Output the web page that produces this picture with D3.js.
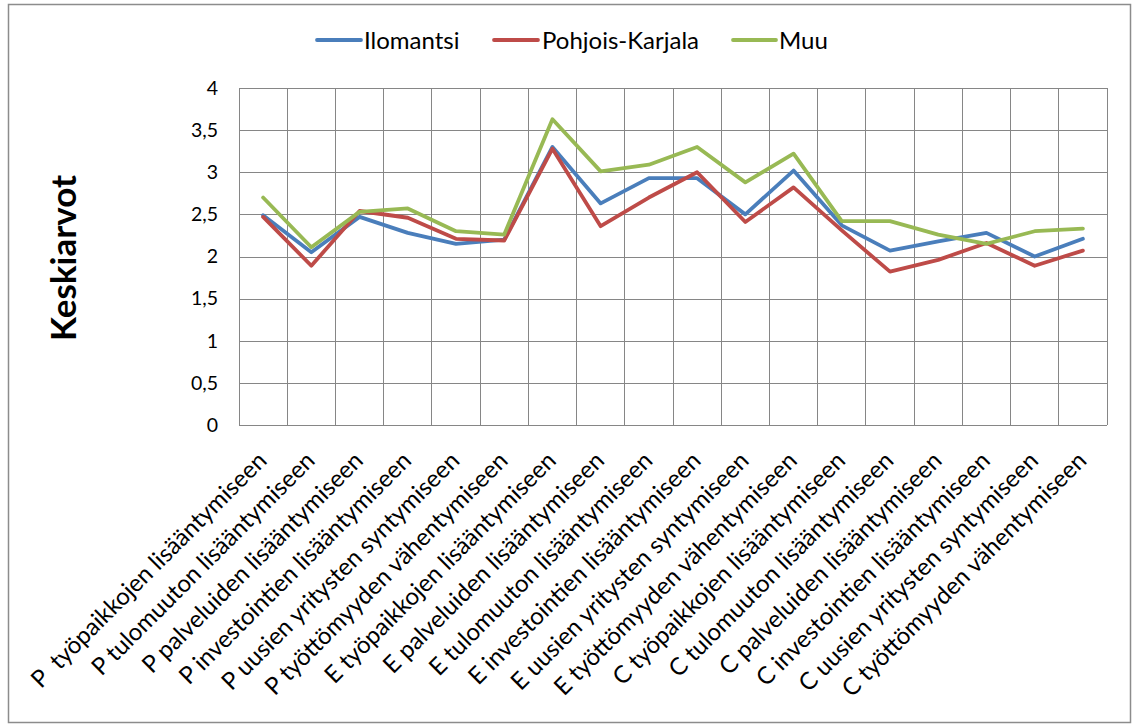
<!DOCTYPE html>
<html>
<head>
<meta charset="utf-8">
<script src="https://cdn.jsdelivr.net/npm/d3@7"></script>
<style>
  html, body { margin: 0; padding: 0; background: #fff; }
  svg { display: block; font-family: Lato, "Open Sans", sans-serif; }
  .xlabel { white-space: pre; }
</style>
</head>
<body>
<svg id="chart" width="1132" height="724"></svg>
<script>
// Question categories (x axis)
const categories = [
  "P  työpaikkojen lisääntymiseen",
  "P tulomuuton lisääntymiseen",
  "P palveluiden lisääntymiseen",
  "P investointien lisääntymiseen",
  "P uusien yritysten syntymiseen",
  "P työttömyyden vähentymiseen",
  "E työpaikkojen lisääntymiseen",
  "E palveluiden lisääntymiseen",
  "E tulomuuton lisääntymiseen",
  "E investointien lisääntymiseen",
  "E uusien yritysten syntymiseen",
  "E työttömyyden vähentymiseen",
  "C työpaikkojen lisääntymiseen",
  "C tulomuuton lisääntymiseen",
  "C palveluiden lisääntymiseen",
  "C investointien lisääntymiseen",
  "C uusien yritysten syntymiseen",
  "C työttömyyden vähentymiseen"
];

// Mean values per respondent group
const ilomantsi = [2.49, 2.05, 2.47, 2.28, 2.15, 2.20, 3.30, 2.63, 2.93, 2.93, 2.50, 3.02, 2.37, 2.07, 2.18, 2.28, 2.00, 2.21];
const pohjoisKarjala = [2.47, 1.89, 2.54, 2.46, 2.21, 2.19, 3.28, 2.36, 2.70, 3.00, 2.41, 2.82, 2.31, 1.82, 1.96, 2.16, 1.89, 2.07];
const muu = [2.70, 2.11, 2.53, 2.57, 2.30, 2.26, 3.63, 3.01, 3.09, 3.30, 2.88, 3.22, 2.42, 2.42, 2.26, 2.15, 2.30, 2.33];

const seriesNames = ["Ilomantsi", "Pohjois-Karjala", "Muu"];
const seriesColors = ["#4A7EBB", "#BE4B48", "#98B954"];
const yTicks = [0, 0.5, 1, 1.5, 2, 2.5, 3, 3.5, 4];

const series = [ilomantsi, pohjoisKarjala, muu].map((values, i) => ({
  name: seriesNames[i], color: seriesColors[i], values
}));

const svg = d3.select("#chart");
const W = 1132, H = 724;

// outer frame
svg.append("rect")
  .attr("x", 8.5).attr("y", 4.5).attr("width", W - 10).attr("height", H - 6)
  .attr("fill", "#fff").attr("stroke", "#8c8c8c").attr("stroke-width", 1.5);

const plot = { left: 239, top: 88, right: 1107, bottom: 425 };

const x = d3.scaleBand().domain(categories).range([plot.left, plot.right]).padding(0);
const y = d3.scaleLinear().domain([0, 4]).range([plot.bottom, plot.top]);

const fmt = v => String(v).replace(".", ",");

// horizontal gridlines
svg.append("g")
  .attr("transform", `translate(${plot.left},0)`)
  .call(d3.axisLeft(y).tickValues(yTicks).tickSize(-(plot.right - plot.left)).tickFormat(""))
  .call(g => g.select(".domain").remove())
  .call(g => g.selectAll("line").attr("stroke", "#868686").attr("stroke-width", 1).attr("shape-rendering", "crispEdges"));

// vertical gridlines at category boundaries
const xBounds = categories.map(c => x(c)).concat([plot.right]);
svg.append("g").selectAll("line")
  .data(xBounds).join("line")
  .attr("x1", d => d).attr("x2", d => d)
  .attr("y1", plot.top).attr("y2", plot.bottom)
  .attr("stroke", "#868686").attr("stroke-width", 1).attr("shape-rendering", "crispEdges");

// y tick labels
svg.append("g")
  .attr("transform", `translate(${plot.left},0)`)
  .call(d3.axisLeft(y).tickValues(yTicks).tickSize(0).tickPadding(21).tickFormat(fmt))
  .call(g => g.select(".domain").remove())
  .call(g => g.selectAll("text")
    .attr("font-family", "Lato, 'Open Sans', sans-serif")
    .attr("font-size", 19.5).attr("fill", "#000"));

// x category labels, rotated
svg.append("g").selectAll("text")
  .data(categories).join("text")
  .attr("class", "xlabel")
  .attr("transform", d => `translate(${x(d) + x.bandwidth() / 2 + 5},${plot.bottom + 37}) rotate(-45)`)
  .attr("text-anchor", "end")
  .attr("font-size", 24)
  .attr("fill", "#000")
  .text(d => d);

// y axis title
svg.append("text")
  .attr("transform", `translate(76,258) rotate(-90)`)
  .attr("text-anchor", "middle")
  .attr("font-size", 35).attr("font-weight", "bold").attr("fill", "#000")
  .text("Keskiarvot");

// lines
const line = d3.line()
  .x((d, i) => x(categories[i]) + x.bandwidth() / 2)
  .y(d => y(d));

svg.append("g").selectAll("path")
  .data(series).join("path")
  .attr("d", d => line(d.values))
  .attr("fill", "none")
  .attr("stroke", d => d.color)
  .attr("stroke-width", 3.8)
  .attr("stroke-linejoin", "round")
  .attr("stroke-linecap", "round");

// legend
const legendItems = [
  { x0: 317, x1: 361, tx: 364 },
  { x0: 494, x1: 538, tx: 542 },
  { x0: 733, x1: 776, tx: 779 }
];
const legend = svg.append("g").selectAll("g")
  .data(series).join("g");
legend.append("line")
  .attr("x1", (d, i) => legendItems[i].x0).attr("x2", (d, i) => legendItems[i].x1)
  .attr("y1", 40).attr("y2", 40)
  .attr("stroke", d => d.color).attr("stroke-width", 3.8).attr("stroke-linecap", "round");
legend.append("text")
  .attr("x", (d, i) => legendItems[i].tx).attr("y", 49)
  .attr("font-size", 24).attr("fill", "#000")
  .text(d => d.name);
</script>
</body>
</html>
